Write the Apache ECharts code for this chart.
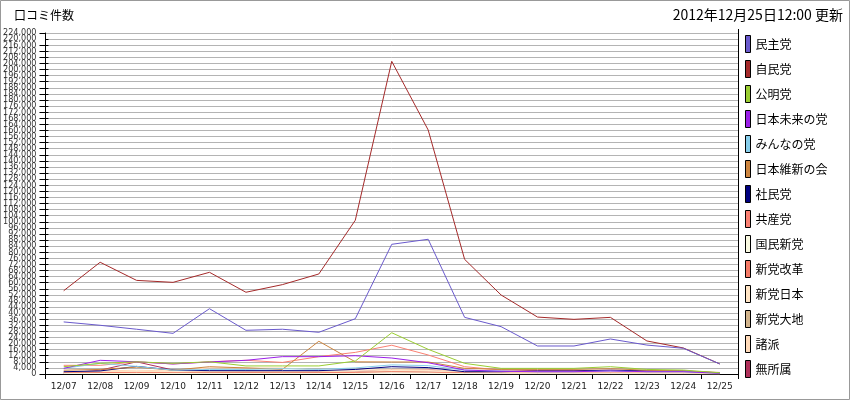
<!DOCTYPE html>
<html>
<head>
<meta charset="utf-8">
<script src="https://cdn.jsdelivr.net/npm/echarts@6/dist/echarts.min.js"></script>
<style>
html,body{margin:0;padding:0;background:#fff;}
#chart{width:850px;height:400px;}
</style>
</head>
<body>
<div id="chart"></div>
<script>
var categories = ['12/07','12/08','12/09','12/10','12/11','12/12','12/13','12/14','12/15','12/16','12/17','12/18','12/19','12/20','12/21','12/22','12/23','12/24','12/25'];

var minshu   = [34200,32000,29400,26700,42900,28700,29400,27400,36300,85200,88500,37200,31100,18400,18400,23000,19000,16900,6600];
var jimin    = [54700,73400,61500,60200,66800,53700,58700,65700,101000,205400,160300,75300,51900,37400,35900,37200,21700,17100,6600];
var komei    = [4800,7000,8000,7000,8000,5300,5300,5300,8500,27100,16200,7000,3700,3700,3700,4800,3000,2600,800];
var mirai    = [3700,9000,8000,6600,7900,9000,11400,11400,12000,10500,7400,2600,1800,1500,1500,2000,1500,1500,500];
var minna    = [3700,7000,5000,2500,3000,3000,3500,3000,4000,6000,5500,2500,2000,1500,1500,2000,1500,1500,500];
var ishin    = [2500,3000,4500,2500,4800,4000,3000,21500,8000,7900,7900,3700,3000,3000,3000,3500,2500,2000,1000];
var shamin   = [1500,2000,5000,2600,2200,2200,2200,2200,3000,4800,4200,1500,1500,2000,2000,2500,2000,2000,700];
var kyosan   = [5700,5700,8000,6600,8000,9000,7600,11400,14200,18900,12500,4800,2600,2200,2200,2500,2000,1800,600];
var kokumin  = [300,300,400,300,300,300,300,300,400,500,500,300,200,200,200,200,200,200,100];
var kaikaku  = [800,900,1000,800,800,900,800,900,1000,1500,1200,700,500,500,500,600,500,400,200];
var nippon   = [1200,1500,1800,1400,1600,1500,1500,1500,1800,2500,2200,1200,900,900,900,1000,800,700,300];
var daichi   = [800,1000,1200,900,1000,1000,900,1000,1200,1500,1300,800,600,600,600,700,600,500,200];
var shoha    = [1500,2000,2500,2000,4000,4000,4000,2500,2500,3000,2800,1500,1000,1000,1000,1200,1000,900,400];
var mushozoku= [500,2500,8000,2600,1500,1500,1500,1500,1500,3000,3000,1000,800,800,800,1000,800,700,300];

var seriesNames = ['民主党','自民党','公明党','日本未来の党','みんなの党','日本維新の会','社民党','共産党','国民新党','新党改革','新党日本','新党大地','諸派','無所属'];
var seriesData = [minshu,jimin,komei,mirai,minna,ishin,shamin,kyosan,kokumin,kaikaku,nippon,daichi,shoha,mushozoku];
var colors = ['#6A5ACD','#A52A2A','#9ACD32','#9B1FE8','#87CEEB','#CD853F','#000080','#FA8072','#F8F8E0','#F47A66','#FFE4C4','#D2B48C','#FFDAB9','#B0305A'];

var yMin = 0, yMax = 224000, yStep = 4000;

function fmt(v){ return v.toString().replace(/\B(?=(\d{3})+(?!\d))/g, ','); }

var chart = echarts.init(document.getElementById('chart'), null, {renderer:'canvas'});

var series = seriesNames.map(function(n,i){
  return {
    name: n, type: 'line', data: seriesData[i],
    symbol: 'none', showSymbol: false, smooth: false,
    lineStyle: {width: 1, color: colors[i]},
    itemStyle: {color: colors[i]},
    emphasis: {disabled: true},
    animation: false,
    z: 20 - i
  };
});

var labelFont = '"Liberation Sans Narrow", "DejaVu Sans Condensed", sans-serif';

var option = {
  animation: false,
  backgroundColor: '#fff',
  color: colors,
  textStyle: {fontFamily: '"Noto Sans CJK JP", sans-serif'},
  title: [
    {text: '口コミ件数', left: 14, top: 9, padding: 0, textStyle: {fontSize: 12, fontWeight: 'normal', color: '#000', fontFamily: '"Noto Sans CJK JP"'}},
    {text: '2012年12月25日12:00 更新', right: 7, top: 8, padding: 0, textStyle: {fontSize: 14, fontWeight: 'normal', color: '#000', fontFamily: '"Noto Sans CJK JP"'}}
  ],
  legend: {
    orient: 'vertical', left: 745, top: 35, padding: 0, height: 370,
    icon: 'rect', itemWidth: 5, itemHeight: 17, itemGap: 7,
    itemStyle: {borderColor: '#000', borderWidth: 1},
    textStyle: {fontSize: 12, color: '#000', fontFamily: '"Noto Sans CJK JP"'},
    selectedMode: false,
    data: seriesNames
  },
  grid: {left: 40, right: 112, top: 33, bottom: 26, containLabel: false},
  xAxis: {
    type: 'category', data: categories, boundaryGap: true,
    axisLine: {lineStyle: {color: '#000', width: 1}},
    axisTick: {show: true, length: 5, lineStyle: {color: '#000'}},
    axisLabel: {fontSize: 9, color: '#222', margin: 8, interval: 0, fontFamily: 'DejaVu Sans'},
    splitLine: {show: false}
  },
  yAxis: [
    {
      type: 'value', min: yMin, max: yMax, interval: yStep,
      axisLine: {show: true, lineStyle: {color: '#000', width: 1}},
      axisTick: {show: true, length: 6, lineStyle: {color: '#000'}},
      axisLabel: {fontSize: 9, color: '#333', margin: 9, showMinLabel: true, showMaxLabel: true, hideOverlap: false,
        fontFamily: labelFont, formatter: fmt},
      splitLine: {show: true, lineStyle: {color: '#B4B4B4', width: 1}}
    },
    {
      type: 'value', min: yMin, max: yMax, interval: yStep, position: 'left',
      axisLine: {show: false},
      axisTick: {show: true, inside: true, length: 3, lineStyle: {color: '#000'}},
      axisLabel: {show: true, inside: false, fontSize: 9, color: '#333', margin: 9, showMinLabel: false, showMaxLabel: false, hideOverlap: false,
        fontFamily: labelFont,
        formatter: function(v){ return (v === yMin + yStep || v === yMax - yStep) ? fmt(v) : ''; }},
      splitLine: {show: false}
    }
  ],
  series: series,
  graphic: [
    {type: 'rect', shape: {x: 0.5, y: 0.5, width: 849, height: 399}, style: {fill: 'none', stroke: '#999', lineWidth: 1}, silent: true, z: 100},
    {type: 'line', shape: {x1: 738.5, y1: 29, x2: 738.5, y2: 379}, style: {stroke: '#000', lineWidth: 1}, silent: true, z: 100}
  ]
};
chart.setOption(option);
</script>
</body>
</html>
